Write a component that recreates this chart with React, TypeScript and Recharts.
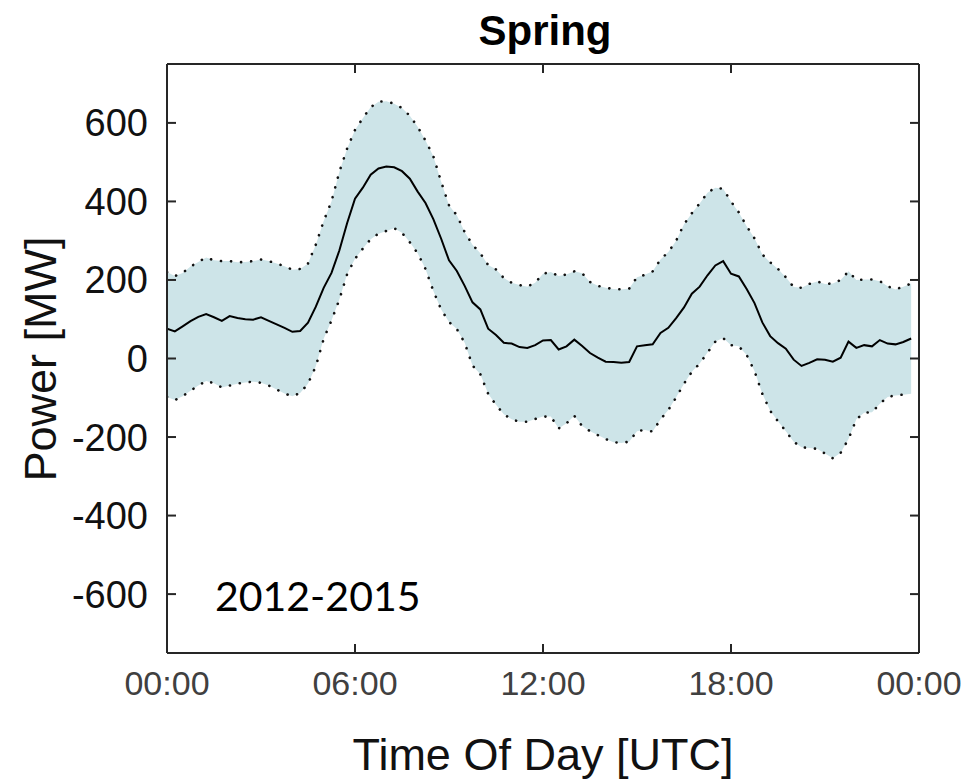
import { ComposedChart, Area, Line, XAxis, YAxis } from "recharts";

const W = 965;
const H = 781;
const FONT = "'Liberation Sans', Arial, Helvetica, sans-serif";
const FRAME = "#262626";
const BAND_FILL = "#cde4e8";

// 15-minute samples, 00:00 ... 23:45 (hours)
const HOURS = Array.from({ length: 96 }, (_, i) => i / 4);

// mean power [MW]
const MEAN = [
  76, 69, 82, 95, 106, 113, 105, 96, 108, 103, 100, 99, 105, 96, 87, 78,
  68, 70, 91, 132, 180, 218, 275, 345, 407, 435, 468, 484, 489, 487, 477, 458,
  425, 396, 355, 305, 250, 223, 185, 143, 125, 76, 60, 40, 38, 29, 27, 34,
  46, 47, 23, 31, 48, 32, 14, 2, -8, -9, -11, -9, 31, 34, 36, 65,
  78, 103, 130, 165, 183, 212, 237, 248, 216, 209, 177, 141, 92, 57, 39, 25,
  -3, -19, -11, -2, -3, -8, 2, 43, 27, 34, 31, 47, 38, 36, 42, 51,
];

// upper edge of the spread (dotted)
const UPPER = [
  220, 210, 218, 234, 246, 257, 250, 248, 248, 245, 246, 248, 252, 248, 242, 235,
  226, 228, 242, 290, 350, 400, 475, 535, 582, 612, 640, 654, 655, 649, 638, 618,
  590, 555, 515, 450, 390, 365, 322, 290, 268, 238, 227, 205, 193, 187, 183, 193,
  216, 220, 210, 214, 222, 217, 195, 185, 180, 177, 176, 178, 207, 213, 222, 252,
  271, 300, 342, 370, 395, 422, 435, 432, 400, 372, 337, 306, 265, 245, 228, 207,
  182, 180, 190, 196, 190, 191, 200, 222, 200, 201, 201, 197, 184, 176, 183, 191,
];

// lower edge of the spread (dotted)
const LOWER = [
  -98, -106, -96, -82, -69, -57, -63, -74, -69, -64, -61, -59, -62, -69, -79, -89,
  -96, -88, -64, -20, 50, 97, 150, 215, 254, 280, 304, 318, 325, 332, 320, 296,
  268, 228, 172, 125, 93, 75, 40, -18, -40, -90, -118, -142, -155, -161, -161, -154,
  -148, -148, -178, -165, -146, -172, -185, -195, -205, -213, -215, -212, -185, -182, -186, -155,
  -131, -99, -64, -34, -13, 15, 43, 52, 34, 31, 9, -32, -90, -133, -160, -185,
  -212, -226, -228, -230, -242, -254, -240, -205, -155, -138, -137, -115, -98, -94, -92, -90,
];

const X_TICKS = [0, 6, 12, 18, 24];
const X_TICK_LABELS = ["00:00", "06:00", "12:00", "18:00", "00:00"];
const Y_TICKS = [-600, -400, -200, 0, 200, 400, 600];

const rows = HOURS.map((h, i) => ({
  h,
  mean: MEAN[i],
  upper: UPPER[i],
  lower: LOWER[i],
  band: [LOWER[i], UPPER[i]],
}));

const xCommon = {
  dataKey: "h",
  type: "number" as const,
  domain: [0, 24],
  allowDataOverflow: true,
  ticks: X_TICKS,
  interval: 0 as const,
};

const yCommon = {
  type: "number" as const,
  domain: [-750, 750],
  allowDataOverflow: true,
  ticks: Y_TICKS,
  interval: 0 as const,
};

const tickMark = { stroke: FRAME, strokeWidth: 2 };
const frameLine = { stroke: FRAME, strokeWidth: 2 };

// mirrored axes only draw the inward tick marks, no labels
const NoLabel = () => <g />;

export default function App() {
  return (
    <div style={{ position: "absolute", left: 0, top: 0, width: W, height: H, background: "#fff" }}>
      <ComposedChart width={W} height={H} data={rows} margin={{ top: 64, right: 46, bottom: 68, left: 0 }}>
        <XAxis
          {...xCommon}
          xAxisId="b"
          height={60}
          tickSize={0}
          tickMargin={18}
          tickLine={false}
          axisLine={frameLine}
          tickFormatter={(v) => X_TICK_LABELS[X_TICKS.indexOf(v)]}
          tick={{ fontSize: 34, fill: "#404040", fontFamily: FONT }}
        />
        <XAxis {...xCommon} xAxisId="bm" orientation="bottom" mirror tick={<NoLabel />} tickSize={9} tickLine={tickMark} axisLine={false} />
        <XAxis {...xCommon} xAxisId="t" orientation="top" mirror tick={<NoLabel />} tickSize={9} tickLine={tickMark} axisLine={frameLine} />
        <YAxis
          {...yCommon}
          yAxisId="l"
          width={167}
          tickSize={0}
          tickMargin={19}
          tickLine={false}
          axisLine={frameLine}
          tick={{ fontSize: 38, fill: "#111", fontFamily: FONT }}
        />
        <YAxis {...yCommon} yAxisId="lm" orientation="left" mirror tick={<NoLabel />} tickSize={9} tickLine={tickMark} axisLine={false} />
        <YAxis {...yCommon} yAxisId="r" orientation="right" mirror tick={<NoLabel />} tickSize={9} tickLine={tickMark} axisLine={frameLine} />

        <Area
          xAxisId="b"
          yAxisId="l"
          dataKey="band"
          type="linear"
          stroke="none"
          fill={BAND_FILL}
          fillOpacity={1}
          isAnimationActive={false}
        />
        <Line
          xAxisId="b"
          yAxisId="l"
          dataKey="upper"
          type="linear"
          dot={false}
          stroke="#111"
          strokeWidth={2.6}
          strokeDasharray="0.1 10"
          strokeLinecap="round"
          isAnimationActive={false}
        />
        <Line
          xAxisId="b"
          yAxisId="l"
          dataKey="lower"
          type="linear"
          dot={false}
          stroke="#111"
          strokeWidth={2.6}
          strokeDasharray="0.1 10"
          strokeLinecap="round"
          isAnimationActive={false}
        />
        <Line
          xAxisId="b"
          yAxisId="l"
          dataKey="mean"
          type="linear"
          dot={false}
          stroke="#000"
          strokeWidth={2}
          isAnimationActive={false}
        />
      </ComposedChart>

      <svg
        width={W}
        height={H}
        style={{ position: "absolute", left: 0, top: 0, pointerEvents: "none" }}
      >
        <text x={545} y={45} textAnchor="middle" fontFamily={FONT} fontWeight="bold" fontSize={42} fill="#000">
          Spring
        </text>
        <text x={543} y={770} textAnchor="middle" fontFamily={FONT} fontSize={45} fill="#111">
          Time Of Day [UTC]
        </text>
        <text
          x={0}
          y={0}
          transform="translate(56 359) rotate(-90)"
          textAnchor="middle"
          fontFamily={FONT}
          fontSize={45}
          fill="#111"
        >
          Power [MW]
        </text>
        <text x={215} y={611} fontFamily="Lato, 'Open Sans', sans-serif" fontSize={41} fill="#000">
          2012-2015
        </text>
      </svg>
    </div>
  );
}
